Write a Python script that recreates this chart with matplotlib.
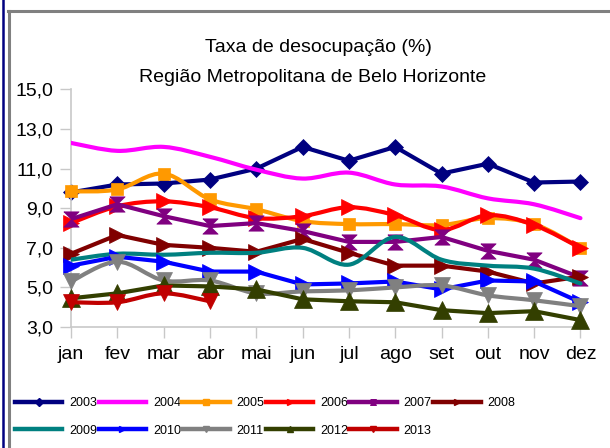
import matplotlib
matplotlib.use('Agg')
import matplotlib.pyplot as plt
import numpy as np
from matplotlib.path import Path
from matplotlib.patches import PathPatch
from matplotlib.lines import Line2D

plt.rcParams['font.family'] = ['Liberation Sans', 'DejaVu Sans']

months = ['jan', 'fev', 'mar', 'abr', 'mai', 'jun', 'jul', 'ago', 'set', 'out', 'nov', 'dez']
years = ['2003', '2004', '2005', '2006', '2007', '2008',
         '2009', '2010', '2011', '2012', '2013']

v2003 = [9.8, 10.2, 10.25, 10.45, 11.0, 12.1, 11.4, 12.1, 10.75, 11.25, 10.3, 10.35]
v2004 = [12.3, 11.9, 12.1, 11.6, 10.95, 10.5, 10.8, 10.2, 10.1, 9.5, 9.2, 8.5]
v2005 = [9.85, 9.95, 10.75, 9.45, 8.95, 8.35, 8.2, 8.2, 8.15, 8.5, 8.2, 7.0]
v2006 = [8.25, 9.1, 9.35, 9.05, 8.5, 8.6, 9.05, 8.65, 7.9, 8.65, 8.15, 7.0]
v2007 = [8.45, 9.2, 8.6, 8.1, 8.25, 7.85, 7.3, 7.3, 7.55, 6.85, 6.4, 5.5]
v2008 = [6.7, 7.65, 7.15, 7.0, 6.8, 7.45, 6.75, 6.1, 6.1, 5.8, 5.2, 5.55]
v2009 = [6.4, 6.7, 6.65, 6.75, 6.75, 7.0, 6.15, 7.55, 6.4, 6.1, 5.95, 5.2]
v2010 = [6.1, 6.55, 6.3, 5.8, 5.8, 5.15, 5.2, 5.3, 4.9, 5.35, 5.3, 4.25]
v2011 = [5.3, 6.3, 5.35, 5.35, 4.7, 4.8, 4.85, 5.0, 5.1, 4.6, 4.35, 4.05]
v2012 = [4.45, 4.7, 5.1, 5.05, 4.9, 4.4, 4.3, 4.25, 3.85, 3.7, 3.8, 3.35]
v2013 = [4.25, 4.25, 4.7, 4.3]

series = [v2003, v2004, v2005, v2006, v2007, v2008, v2009, v2010, v2011, v2012, v2013]
colors = ['#000080', '#FF00FF', '#FF9900', '#FF0000', '#800080', '#800000',
          '#008080', '#0000FF', '#808080', '#333F00', '#C00000']

hourglass = Path([(-1, 1), (1, 1), (0, 0), (1, -1), (-1, -1), (0, 0), (-1, 1)])
markers = ['D', None, 's', '>', hourglass, '>', None, '>', 'v', '^', 'v']
msizes = [8, 0, 9, 12, 11, 12, 0, 12, 12, 13, 12]
smooth = [False, True, True, True, False, False, True, False, True, False, True]


def smooth_path(x, y):
    # excel style bezier smoothing
    pts = np.column_stack([x, y])
    n = len(pts)
    verts = [pts[0]]
    codes = [Path.MOVETO]
    for i in range(n - 1):
        p0 = pts[max(i - 1, 0)]
        p1 = pts[i]
        p2 = pts[i + 1]
        p3 = pts[min(i + 2, n - 1)]
        c1 = p1 + (p2 - p0) / 6.0
        c2 = p2 - (p3 - p1) / 6.0
        verts += [c1, c2, p2]
        codes += [Path.CURVE4] * 3
    return Path(verts, codes)


fig = plt.figure(figsize=(6.1, 4.48), dpi=100)
ax = fig.add_axes([71 / 610, 1 - 327 / 448, 515 / 610, 237.5 / 448])

handles = []
for i, vals in enumerate(series):
    x = np.arange(len(vals))
    y = np.array(vals)
    c = colors[i]
    if smooth[i]:
        ax.add_patch(PathPatch(smooth_path(x, y), fill=False, edgecolor=c,
                               lw=3, capstyle='round', joinstyle='round', zorder=2 + i))
    else:
        ax.plot(x, y, color=c, lw=3, solid_joinstyle='round', zorder=2 + i)
    if markers[i] is not None:
        ax.plot(x, y, ls='none', marker=markers[i], ms=msizes[i], color=c,
                mec=c, mew=0.5, clip_on=False, zorder=2 + i)
    handles.append(Line2D([], [], color=c, lw=3.2, marker=markers[i],
                          ms=4 if markers[i] is not None else 0, mec=c))

ax.set_xlim(0, 11.12)
ax.set_ylim(3, 15)
ax.set_xticks(range(len(months)))
ax.set_xticklabels(months)
yt = np.arange(3, 16, 2)
ax.set_yticks(yt)
ax.set_yticklabels([f'{v:.1f}'.replace('.', ',') for v in yt])
ax.tick_params(axis='both', labelsize=14, color='#C8C8C8', length=8, width=1)
ax.tick_params(axis='x', pad=6)
ax.tick_params(axis='y', pad=5)
for s in ['top', 'right']:
    ax.spines[s].set_visible(False)
for s in ['left', 'bottom']:
    ax.spines[s].set_color('#C8C8C8')
    ax.spines[s].set_linewidth(1.2)

fig.text(318 / 610, 1 - 48 / 448, 'Taxa de desocupação (%)', ha='center', va='center', fontsize=14)
fig.text(313 / 610, 1 - 77 / 448, 'Região Metropolitana de Belo Horizonte',
         ha='center', va='center', fontsize=14)

# legend fills column by column, so interleave to get two rows
order = [0, 6, 1, 7, 2, 8, 3, 9, 4, 10, 5]
fig.legend([handles[k] for k in order], [years[k] for k in order],
           loc='upper left', bbox_to_anchor=(15 / 610, 1 - 397 / 448),
           ncol=6, frameon=False, fontsize=9, handlelength=3.8, handletextpad=0.55,
           columnspacing=0.1, labelspacing=1.25, borderpad=0, borderaxespad=0)

# outer frame lines
fig.add_artist(Line2D([3 / 610, 3 / 610], [0, 1], color='#000080', lw=1.8))
fig.add_artist(Line2D([8.5 / 610, 8.5 / 610], [0, 1 - 11.5 / 448], color='#808080', lw=2.2))
fig.add_artist(Line2D([7.5 / 610, 1], [1 - 11.5 / 448, 1 - 11.5 / 448], color='#808080', lw=2.2))

fig.savefig('out.png', dpi=100)
